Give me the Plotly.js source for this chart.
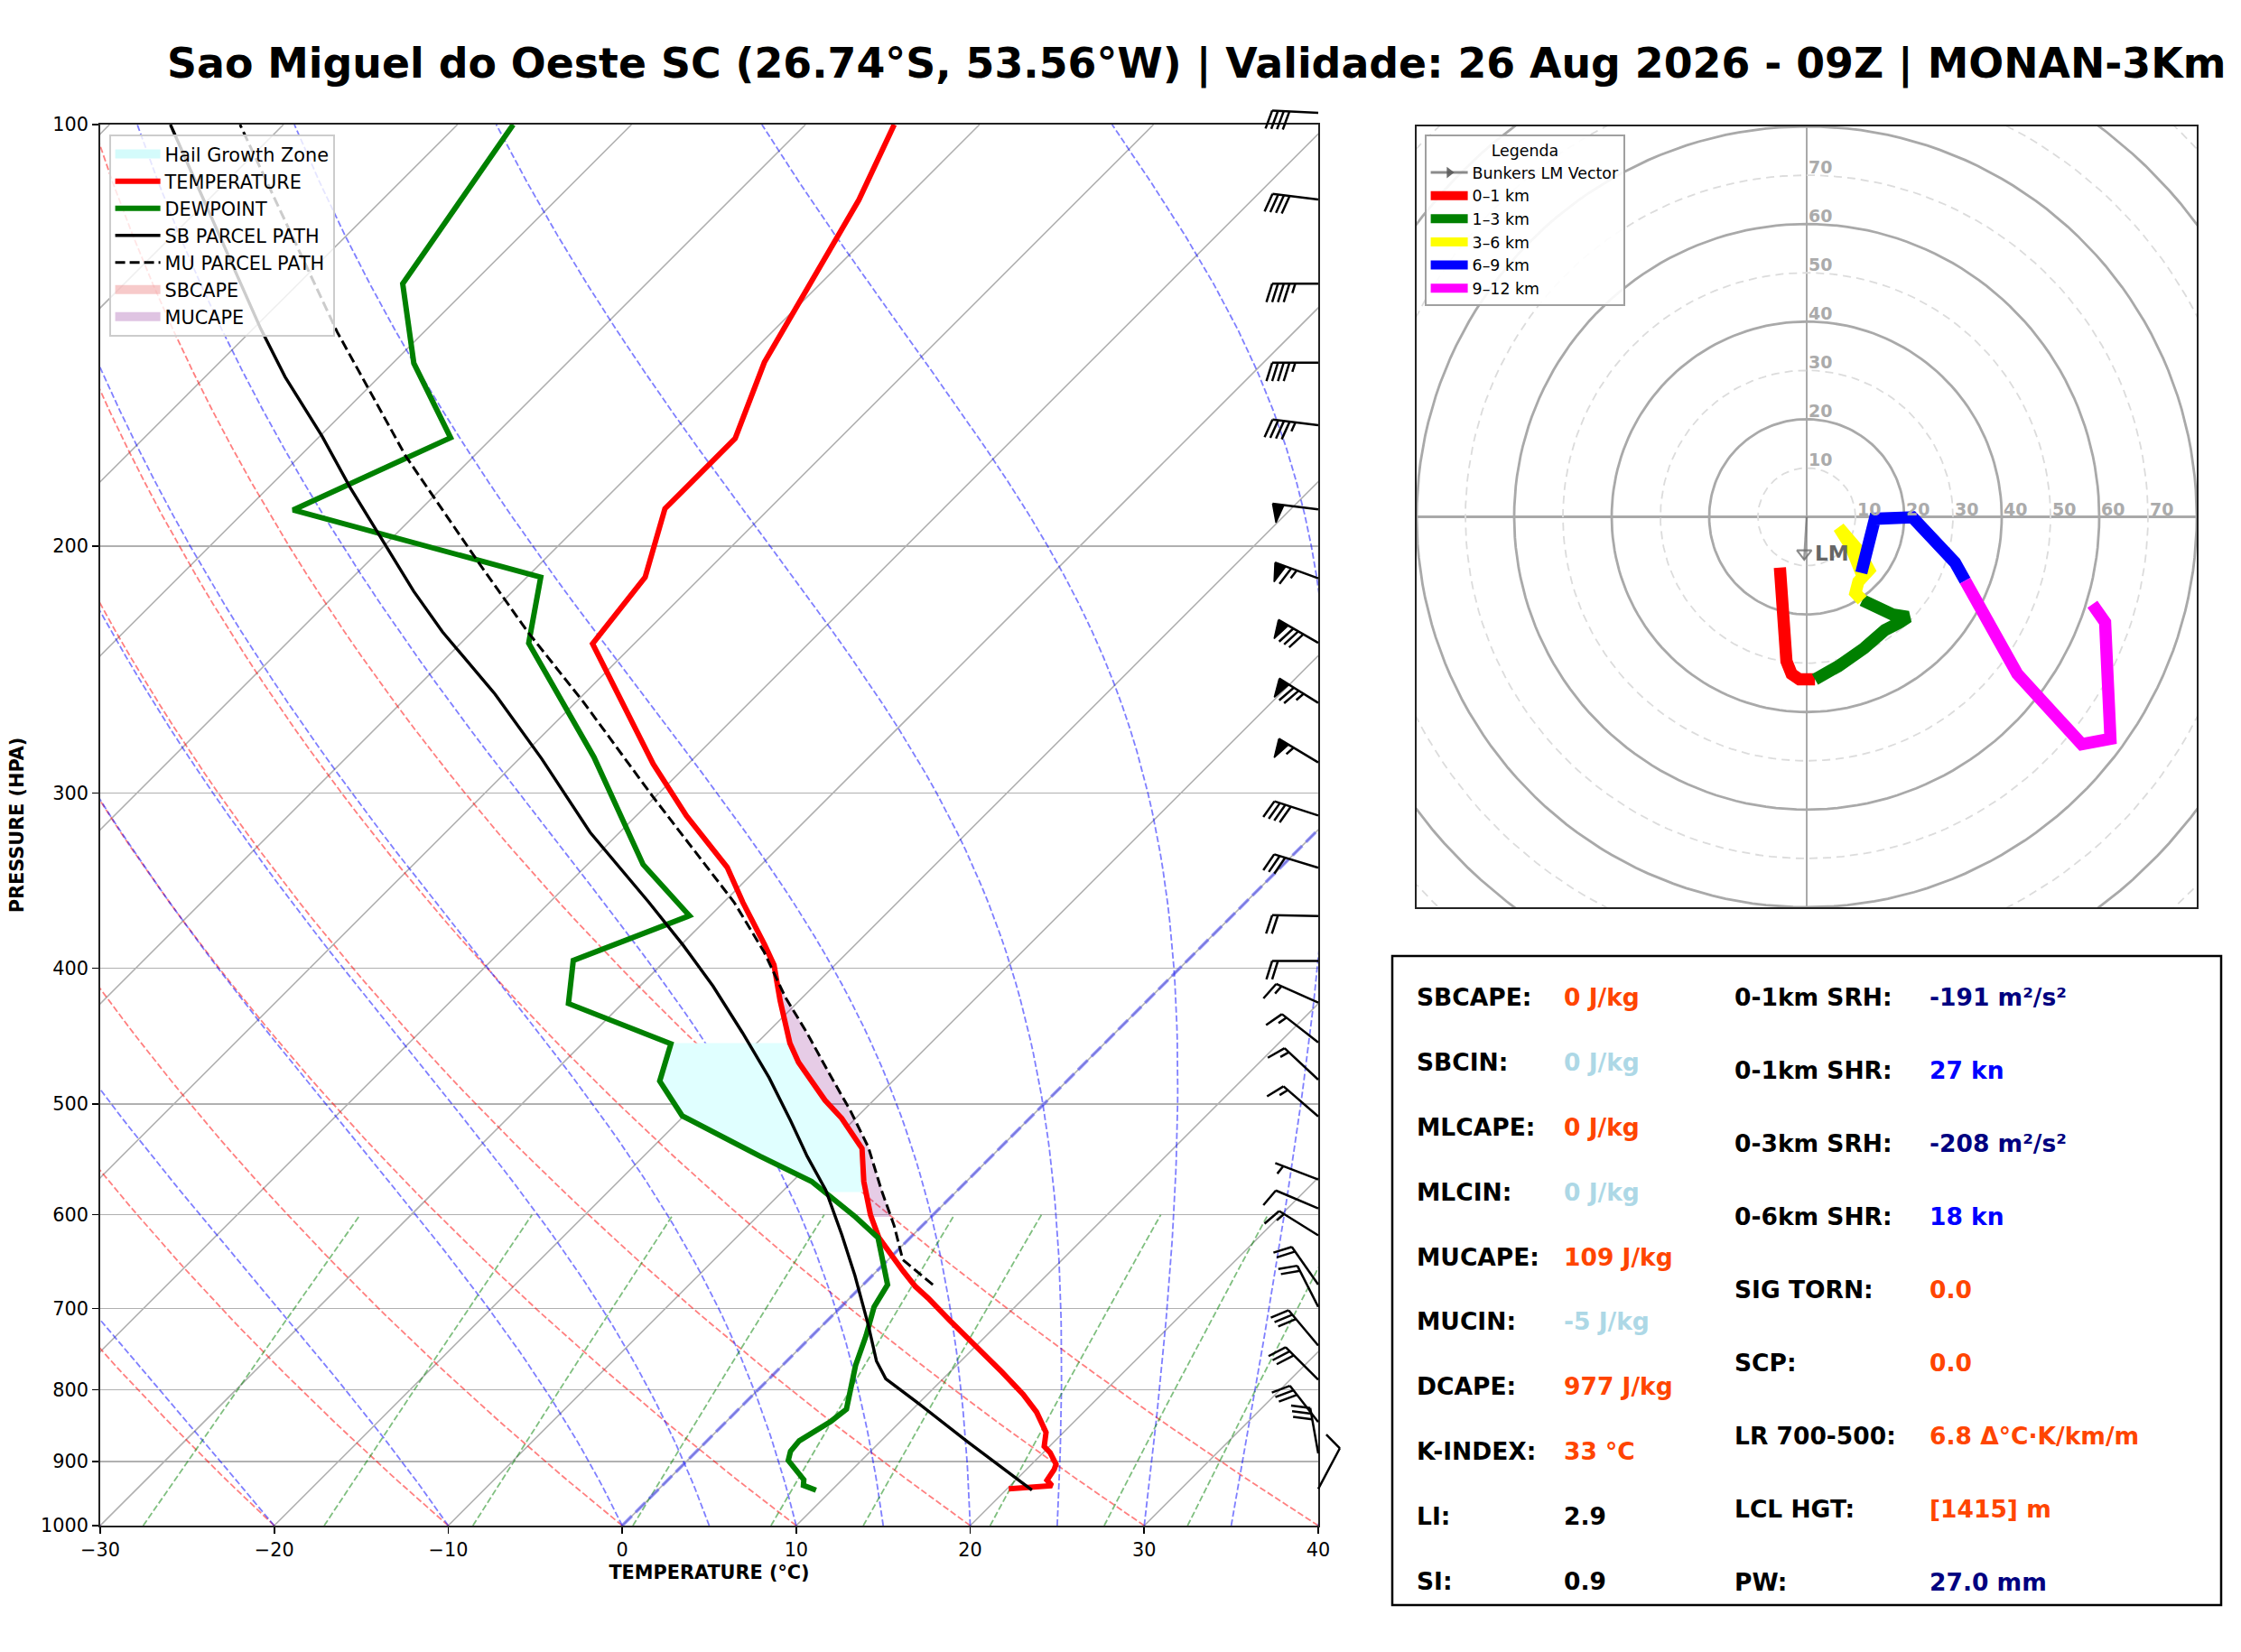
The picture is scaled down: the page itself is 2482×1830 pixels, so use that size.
<!DOCTYPE html>
<html>
<head>
<meta charset="utf-8">
<script src="https://cdn.plot.ly/plotly-3.0.1.min.js"></script>
<style>
html,body{margin:0;padding:0;background:#ffffff;}
#chart{width:2482px;height:1830px;}
</style>
</head>
<body>
<div id="chart"></div>
<script>
// ================= DATA =================
const titleText = 'Sao Miguel do Oeste SC (26.74°S, 53.56°W) | Validade: 26 Aug 2026 - 09Z | MONAN-3Km';

// Environmental temperature (hPa, °C)
const tempP = [941.3, 936.4, 928, 912, 904, 887, 878, 858, 830, 806, 777, 741, 714, 688, 675, 658, 639, 623, 600, 568, 538, 512, 497, 482, 467, 452.5, 435, 422, 398, 385, 359, 339, 311.5, 286, 234.7, 210.4, 188, 167.5, 147.8, 135.1, 122, 113.2, 100];
const tempT = [20.1, 22.4, 21.8, 21.6, 21.4, 20.4, 19.7, 19.0, 17.3, 15.5, 13.0, 9.6, 7.05, 4.5, 3.1, 1.5, -0.3, -1.8, -3.6, -5.9, -7.9, -10.8, -12.8, -14.6, -16.5, -18.1, -19.8, -21.1, -23.5, -25.2, -28.9, -31.8, -37.1, -42.0, -52.4, -53.2, -56.0, -56.0, -58.7, -60.0, -61.5, -62.6, -64.9];

// Dewpoint
const dewP = [943.4, 936, 927.4, 914, 898.5, 885, 870, 842.5, 826, 768.5, 732, 698, 673, 623, 602, 568, 545, 510, 481.6, 453, 424, 395, 367, 337.4, 282.8, 234.5, 210.4, 188.4, 167.3, 148, 129.9, 100];
const dewT = [9.1, 8.1, 7.8, 6.9, 5.8, 5.4, 5.3, 6.0, 6.2, 4.2, 3.1, 1.9, 1.4, -1.85, -4.35, -8.9, -13.3, -20.1, -23.4, -24.9, -33.1, -35.3, -31.2, -36.8, -45.8, -56.1, -59.2, -77.3, -72.4, -78.8, -84.0, -86.8];

// Surface-based parcel path
const sbP = [943.2, 871, 815, 785.5, 763, 719, 663, 620, 576, 545, 514, 479, 445, 412, 385, 359, 320, 283.6, 255, 230.2, 215.3, 197.7, 181.6, 166.8, 151.4, 139.8, 100];
const sbT = [21.5, 15.0, 9.7, 6.7, 5.15, 2.6, -1.0, -4.1, -7.6, -10.6, -13.6, -17.3, -21.4, -25.8, -29.9, -34.3, -41.7, -48.7, -55.1, -61.7, -65.7, -70.5, -75.3, -79.9, -85.4, -89.6, -106.5];

// Most-unstable parcel path
const muP = [673, 646, 611, 576, 537, 506, 475.6, 445, 419.6, 389.7, 359, 302, 258.2, 230.2, 205.8, 172.5, 140.6, 100];
const muT = [4.0, 0.84, -1.6, -4.4, -7.6, -10.7, -14.1, -17.7, -21.0, -24.8, -29.4, -40.1, -49.6, -56.8, -63.5, -73.9, -85.0, -102.5];

// Shaded layers (hPa)
const hgzBottomP = 578, hgzTopP = 452.5;
const muLfcP = 602, muElP = 410;

// Wind barbs (hPa, direction from, knots)
const windP   = [98.1, 113.1, 129.9, 147.9, 163.9, 188.2, 210.8, 234.4, 258.7, 285.3, 311.3, 339.2, 367.2, 395.3, 423.4, 452.0, 480.5, 510.5, 566.2, 593.8, 620.7, 672.9, 697.9, 743.8, 786.8, 843.5, 888.0, 941.4];
const windDir = [273, 277, 270, 270, 277, 277, 290, 300, 302, 301, 288, 287, 271, 270, 294, 308, 313, 311, 291, 293, 302, 325, 333, 320, 315, 322, 350, 28];
const windSpd = [40, 40, 45, 45, 45, 50, 65, 80, 75, 55, 40, 30, 20, 20, 15, 15, 15, 15, 5, 10, 15, 20, 20, 30, 30, 30, 30, 10];

// Hodograph (u, v in kt) per layer
const hodo01U  = [-5.5, -5.0, -4.5, -4.15, -3.1, -1.5, 1.7];
const hodo01V  = [-10.4, -17.3, -24.2, -29.6, -32.2, -33.3, -33.3];
const hodo13U  = [1.7, 6.5, 11.8, 16.05, 19.2, 20.8, 17.6, 13.9, 11.4];
const hodo13V  = [-33.3, -30.6, -26.9, -23.2, -21.6, -20.5, -20.0, -18.4, -17.1];
const hodo36U  = [11.4, 10.0, 10.6, 12.8, 10.6, 6.6, 9.0, 11.2];
const hodo36V  = [-17.1, -15.6, -13.3, -10.9, -6.85, -2.2, -6.0, -11.5];
const hodo69U  = [11.2, 12.5, 14.0, 21.7, 30.4, 32.5];
const hodo69V  = [-11.5, -6.85, -0.4, -0.1, -9.35, -13.1];
const hodo912U = [32.5, 43.2, 56.4, 62.3, 61.2, 58.6];
const hodo912V = [-13.1, -32.2, -46.6, -45.5, -21.6, -17.9];
const bunkersLM = [-0.5, -8.7];
const hodoRingsSolid = [20, 40, 60, 80, 100];
const hodoRingsDashed = [10, 30, 50, 70, 90, 110];
const hodoRingLabels = [10, 20, 30, 40, 50, 60, 70];

// Thermodynamic diagram background families
const isothermT = [-110, -100, -90, -80, -70, -60, -50, -40, -30, -20, -10, 0, 10, 20, 30, 40];
const dryAdiabatT0 = [-30, -20, -10, 0, 10, 20, 30, 40];
const moistAdiabatT0 = [-30, -20, -10, 0, 5, 10, 15, 20, 25, 30, 35, 40];
const mixingRatios = [0.0004, 0.001, 0.002, 0.004, 0.007, 0.01, 0.016, 0.024, 0.032];
const xTicks = [-30, -20, -10, 0, 10, 20, 30, 40];
const pTicks = [100, 200, 300, 400, 500, 600, 700, 800, 900, 1000];

// Stats table
const statsLeftLabels  = ['SBCAPE:', 'SBCIN:', 'MLCAPE:', 'MLCIN:', 'MUCAPE:', 'MUCIN:', 'DCAPE:', 'K-INDEX:', 'LI:', 'SI:'];
const statsLeftValues  = ['0 J/kg', '0 J/kg', '0 J/kg', '0 J/kg', '109 J/kg', '-5 J/kg', '977 J/kg', '33 °C', '2.9', '0.9'];
const statsLeftColors  = ['#ff4500', '#add8e6', '#ff4500', '#add8e6', '#ff4500', '#add8e6', '#ff4500', '#ff4500', '#000000', '#000000'];
const statsRightLabels = ['0-1km SRH:', '0-1km SHR:', '0-3km SRH:', '0-6km SHR:', 'SIG TORN:', 'SCP:', 'LR 700-500:', 'LCL HGT:', 'PW:'];
const statsRightValues = ['-191 m²/s²', '27 kn', '-208 m²/s²', '18 kn', '0.0', '0.0', '6.8 Δ°C·K/km/m', '[1415] m', '27.0 mm'];
const statsRightColors = ['#000080', '#0000ff', '#000080', '#0000ff', '#ff4500', '#ff4500', '#ff4500', '#ff4500', '#000080'];

// ================= LAYOUT GEOMETRY =================
const W = 2482, H = 1830;
const FONT = 'DejaVu Sans';
const SK = {l: 111, r: 1460, t: 138, b: 1690};   // skew-T plot area (px)
const HD = {l: 1569, r: 2433, t: 140, b: 1005};  // hodograph box (px)
const pxPerDeg = (SK.r - SK.l) / 70;
const pxPerDec = (SK.b - SK.t);
const K = pxPerDec / pxPerDeg;                   // 45° skew, °C per decade of pressure
const skewX = (T, p) => T + K * Math.log10(1000 / p);

function interpLog(pArr, tArr, p) {
  for (let i = 0; i < pArr.length - 1; i++) {
    if (p <= pArr[i] && p >= pArr[i + 1]) {
      const f = (Math.log(p) - Math.log(pArr[i])) / (Math.log(pArr[i + 1]) - Math.log(pArr[i]));
      return tArr[i] + f * (tArr[i + 1] - tArr[i]);
    }
  }
  return null;
}

const traces = [];
const base = {type: 'scatter', mode: 'lines', hoverinfo: 'skip', showlegend: false};

function multiLine(curves, style) {
  const x = [], y = [];
  curves.forEach(c => { c.T.forEach((t, i) => { x.push(skewX(t, c.P[i])); y.push(c.P[i]); }); x.push(null); y.push(null); });
  return Object.assign({}, base, {x, y, xaxis: 'x', yaxis: 'y', line: style});
}

// ---- background lines ----
const pFull = []; for (let p = 1000; p >= 100; p -= 10) pFull.push(p);
traces.push(multiLine(isothermT.map(t => ({T: [t, t], P: [1000, 100]})), {color: '#b0b0b0', width: 1.6}));

const Rd = 287.04749, Lv = 2.50084e6, Cpd = 1004.6662, EPS = 0.6219569;
traces.push(multiLine(dryAdiabatT0.map(t0 => ({P: pFull, T: pFull.map(p => (t0 + 273.15) * Math.pow(p / 1000, Rd / Cpd) - 273.15)})),
  {color: 'rgba(255,0,0,0.5)', width: 1.8, dash: '7px,3px'}));

function moistCurve(t0) {
  const rs = (p, T) => { const es = 6.112 * Math.exp(17.67 * (T - 273.15) / (T - 29.65)); return EPS * es / (p - es); };
  const f = (p, T) => { const r = rs(p, T); return ((Rd * T + Lv * r) / (Cpd + Lv * Lv * r * EPS / (Rd * T * T))) / p; };
  let T = t0 + 273.15, p = 1000; const h = -2; const P = [1000], TT = [t0];
  while (p > 100.5) {
    const k1 = f(p, T), k2 = f(p + h / 2, T + h / 2 * k1), k3 = f(p + h / 2, T + h / 2 * k2), k4 = f(p + h, T + h * k3);
    T += h / 6 * (k1 + 2 * k2 + 2 * k3 + k4); p += h;
    if (Math.abs(p / 10 - Math.round(p / 10)) < 1e-6) { P.push(p); TT.push(T - 273.15); }
  }
  return {P, T: TT};
}
traces.push(multiLine(moistAdiabatT0.map(moistCurve), {color: 'rgba(0,0,255,0.5)', width: 1.8, dash: '7px,3px'}));

const pMix = []; for (let p = 1000; p >= 600; p -= 20) pMix.push(p);
traces.push(multiLine(mixingRatios.map(w => ({P: pMix, T: pMix.map(p => { const e = p * w / (EPS + w); const l = Math.log(e / 6.112); return 243.5 * l / (17.67 - l); })})),
  {color: 'rgba(0,128,0,0.5)', width: 1.8, dash: '7px,3px'}));

// 0 °C isotherm
traces.push(multiLine([{T: [0, 0], P: [1000, 100]}], {color: 'rgba(60,60,255,0.5)', width: 3.6, dash: '15px,6px'}));

// ---- shaded regions ----
(function () {
  const tp = [hgzBottomP], tt = [interpLog(tempP, tempT, hgzBottomP)];
  tempP.forEach((p, i) => { if (p < hgzBottomP && p > hgzTopP) { tp.push(p); tt.push(tempT[i]); } });
  tp.push(hgzTopP); tt.push(interpLog(tempP, tempT, hgzTopP));
  const dp = [hgzTopP], dt = [interpLog(dewP, dewT, hgzTopP)];
  for (let i = dewP.length - 1; i >= 0; i--) { if (dewP[i] < hgzBottomP && dewP[i] > hgzTopP) { dp.push(dewP[i]); dt.push(dewT[i]); } }
  dp.push(hgzBottomP); dt.push(interpLog(dewP, dewT, hgzBottomP));
  const P = tp.concat(dp), T = tt.concat(dt);
  traces.push(Object.assign({}, base, {x: T.map((t, i) => skewX(t, P[i])), y: P, xaxis: 'x', yaxis: 'y', fill: 'toself', fillcolor: 'rgba(224,255,255,1)', line: {width: 0}}));
})();
(function () {
  const n = 60, up = [], lo = [];
  for (let k = 0; k <= n; k++) {
    const p = muLfcP * Math.pow(muElP / muLfcP, k / n);
    const a = interpLog(muP, muT, p), b = interpLog(tempP, tempT, p);
    up.push([p, Math.max(a, b)]); lo.push([p, b]);
  }
  const pts = up.concat(lo.reverse());
  traces.push(Object.assign({}, base, {x: pts.map(q => skewX(q[1], q[0])), y: pts.map(q => q[0]), xaxis: 'x', yaxis: 'y', fill: 'toself', fillcolor: 'rgba(128,0,128,0.2)', line: {width: 0}}));
})();

// ---- profiles ----
const prof = (P, T, name, line, rank) => Object.assign({}, base, {x: T.map((t, i) => skewX(t, P[i])), y: P, xaxis: 'x', yaxis: 'y', name, line, showlegend: true, legend: 'legend', legendrank: rank});
traces.push(prof(tempP, tempT, 'TEMPERATURE', {color: '#ff0000', width: 6}, 2));
traces.push(prof(dewP, dewT, 'DEWPOINT', {color: '#008000', width: 6}, 3));
traces.push(prof(sbP, sbT, 'SB PARCEL PATH', {color: '#000000', width: 3.4}, 4));
traces.push(prof(muP, muT, 'MU PARCEL PATH', {color: '#000000', width: 3, dash: '11px,5px'}, 5));

// legend-only patches
const patch = (name, color, rank) => Object.assign({}, base, {x: [null], y: [null], xaxis: 'x', yaxis: 'y', name, showlegend: true, legend: 'legend', legendrank: rank, line: {color, width: 14}});
traces.push(patch('Hail Growth Zone', '#d4fbfb', 1));
traces.push(patch('SBCAPE', 'rgba(240,150,150,0.5)', 6));
traces.push(patch('MUCAPE', 'rgba(150,60,160,0.3)', 7));

// ---- wind barbs (overlay axes with identical pressure/temperature scale) ----
(function () {
  const lx = [], ly = [], fx = [], fy = [];
  const L = 51, fh = 0.4 * L, fw = 0.25 * L, sp = 0.125 * L;
  for (let i = 0; i < windP.length; i++) {
    const pb = windP[i], d = windDir[i] * Math.PI / 180;
    const ux = Math.sin(d), uy = Math.cos(d);
    const qx = -uy, qy = ux;  // southern-hemisphere (flipped) feathers
    const toData = (a, b) => { const sx = a * ux + b * qx, sy = a * uy + b * qy; return [40 + sx / pxPerDeg, pb * Math.pow(10, -sy / pxPerDec)]; };
    const push = (X, Y, pts) => { pts.forEach(q => { const dd = toData(q[0], q[1]); X.push(dd[0]); Y.push(dd[1]); }); X.push(null); Y.push(null); };
    push(lx, ly, [[0, 0], [L, 0]]);
    let s = Math.round(windSpd[i] / 5) * 5;
    const nf = Math.floor(s / 50); s -= nf * 50;
    const nb = Math.floor(s / 10); const half = (s - nb * 10) >= 5;
    let off = L;
    for (let k = 0; k < nf; k++) { if (off !== L) off += sp / 2; push(fx, fy, [[off, 0], [off - fw / 2, fh], [off - fw, 0]]); off -= fw + sp; }
    for (let k = 0; k < nb; k++) { push(lx, ly, [[off, 0], [off + fw / 2, fh]]); off -= sp; }
    if (half) { if (off === L) off -= 1.5 * sp; push(lx, ly, [[off, 0], [off + fw / 4, fh / 2]]); }
  }
  traces.push(Object.assign({}, base, {x: lx, y: ly, xaxis: 'x3', yaxis: 'y3', line: {color: '#000', width: 2.5}}));
  traces.push(Object.assign({}, base, {x: fx, y: fy, xaxis: 'x3', yaxis: 'y3', fill: 'toself', fillcolor: '#000', line: {color: '#000', width: 1.5}}));
})();

// ---- hodograph ----
function ring(r) { const x = [], y = []; for (let a = 0; a <= 360; a += 2) { x.push(r * Math.cos(a * Math.PI / 180)); y.push(r * Math.sin(a * Math.PI / 180)); } return {x, y}; }
function rings(list, style) { const x = [], y = []; list.forEach(r => { const c = ring(r); x.push(...c.x, null); y.push(...c.y, null); }); return Object.assign({}, base, {x, y, xaxis: 'x2', yaxis: 'y2', line: style}); }
traces.push(rings(hodoRingsDashed, {color: '#dcdcdc', width: 1.8, dash: '9px,6px'}));
traces.push(rings(hodoRingsSolid, {color: '#a9a9a9', width: 2.8}));
const hodoSeg = (U, V, color) => Object.assign({}, base, {x: U, y: V, xaxis: 'x2', yaxis: 'y2', line: {color, width: 13.5}});
traces.push(hodoSeg(hodo01U, hodo01V, '#ff0000'));
traces.push(hodoSeg(hodo13U, hodo13V, '#008000'));
traces.push(hodoSeg(hodo36U, hodo36V, '#ffff00'));
traces.push(hodoSeg(hodo69U, hodo69V, '#0000ff'));
traces.push(hodoSeg(hodo912U, hodo912V, '#ff00ff'));
traces.push(Object.assign({}, base, {x: [0, bunkersLM[0]], y: [0, bunkersLM[1]], xaxis: 'x2', yaxis: 'y2', line: {color: 'rgba(110,110,110,0.7)', width: 2.5}}));
traces.push(Object.assign({}, base, {mode: 'markers', x: [bunkersLM[0]], y: [bunkersLM[1] + 1.2], xaxis: 'x2', yaxis: 'y2', marker: {symbol: 'triangle-down-open', size: 14, color: 'rgba(110,110,110,0.8)', line: {width: 2.2}}}));

const leg2 = (name, color, width, extra) => Object.assign({}, base, {x: [null], y: [null], xaxis: 'x2', yaxis: 'y2', name, showlegend: true, legend: 'legend2', line: {color, width}}, extra || {});
traces.push(leg2('Bunkers LM Vector', 'rgba(110,110,110,0.8)', 3, {mode: 'lines+markers', marker: {symbol: 'triangle-right', size: 11, color: 'rgba(90,90,90,0.9)'}}));
traces.push(leg2('0–1 km', '#ff0000', 13));
traces.push(leg2('1–3 km', '#008000', 13));
traces.push(leg2('3–6 km', '#ffff00', 13));
traces.push(leg2('6–9 km', '#0000ff', 13));
traces.push(leg2('9–12 km', '#ff00ff', 13));

// ---- annotations ----
const annotations = [];
hodoRingLabels.forEach(r => {
  const f = {family: FONT, size: 19, color: '#ababab', weight: 'bold'};
  annotations.push({x: r, y: 0, xref: 'x2', yref: 'y2', text: String(r), showarrow: false, xanchor: 'left', yanchor: 'bottom', yshift: -4, font: f});
  annotations.push({x: 0, y: r, xref: 'x2', yref: 'y2', text: String(r), showarrow: false, xanchor: 'left', yanchor: 'bottom', yshift: -4, font: f});
});
annotations.push({x: bunkersLM[0] + 5.7, y: bunkersLM[1] + 1.2, xref: 'x2', yref: 'y2', text: 'LM', showarrow: false, xanchor: 'center', yanchor: 'middle', font: {family: FONT, size: 23, color: '#666666', weight: 'bold'}});

const tbl = {x0: 1542, x1: 2460, y0: 1059, y1: 1778};
const px = x => x / W, py = y => 1 - y / H;
const tf = (c) => ({family: FONT, size: 26.5, color: c, weight: 'bold'});
statsLeftLabels.forEach((t, i) => {
  const y = 1104.3 + i * 71.93;
  annotations.push({x: px(1567), y: py(y), xref: 'paper', yref: 'paper', text: t, showarrow: false, xanchor: 'left', yanchor: 'middle', font: tf('#000')});
  annotations.push({x: px(1730), y: py(y), xref: 'paper', yref: 'paper', text: statsLeftValues[i], showarrow: false, xanchor: 'left', yanchor: 'middle', font: tf(statsLeftColors[i])});
});
statsRightLabels.forEach((t, i) => {
  const y = 1104.3 + i * 81.0;
  annotations.push({x: px(1919), y: py(y), xref: 'paper', yref: 'paper', text: t, showarrow: false, xanchor: 'left', yanchor: 'middle', font: tf('#000')});
  annotations.push({x: px(2135), y: py(y), xref: 'paper', yref: 'paper', text: statsRightValues[i], showarrow: false, xanchor: 'left', yanchor: 'middle', font: tf(statsRightColors[i])});
});

const shapes = [{type: 'rect', xref: 'paper', yref: 'paper', x0: px(tbl.x0), x1: px(tbl.x1), y0: py(tbl.y1), y1: py(tbl.y0), line: {color: '#000', width: 2.5}, fillcolor: 'rgba(0,0,0,0)'}];

const tickFont = {family: FONT, size: 20.8, color: '#000'};
const layout = {
  width: W, height: H, margin: {l: 0, r: 0, t: 0, b: 0},
  paper_bgcolor: '#ffffff', plot_bgcolor: 'rgba(0,0,0,0)',
  font: {family: FONT, color: '#000'}, hovermode: false,
  title: {text: titleText, xref: 'container', yref: 'container', x: 185 / W, xanchor: 'left', y: 1 - 70 / H, yanchor: 'middle',
          font: {family: FONT, size: 45.8, weight: 'bold', color: '#000'}},
  xaxis: {domain: [SK.l / W, SK.r / W], range: [-30, 40], anchor: 'y', tickmode: 'array', tickvals: xTicks,
          ticks: 'outside', ticklen: 7, tickwidth: 1.6, tickcolor: '#000', showline: true, linecolor: '#222', linewidth: 1.8, mirror: true,
          showgrid: false, zeroline: false, tickfont: tickFont,
          title: {text: 'TEMPERATURE (°C)', font: {family: FONT, size: 20.8, weight: 'bold'}, standoff: 7}},
  yaxis: {domain: [1 - SK.b / H, 1 - SK.t / H], type: 'log', range: [3, 2], anchor: 'x', tickmode: 'array', tickvals: pTicks,
          ticktext: pTicks.map(String), ticks: 'outside', ticklen: 7, tickwidth: 1.6, tickcolor: '#000',
          showline: true, linecolor: '#222', linewidth: 1.8, mirror: true, showgrid: true, gridcolor: '#b0b0b0', gridwidth: 1.6,
          zeroline: false, tickfont: tickFont,
          title: {text: 'PRESSURE (HPA)', font: {family: FONT, size: 20.8, weight: 'bold'}, standoff: 13}},
  xaxis2: {domain: [HD.l / W, HD.r / W], range: [-80, 80], anchor: 'y2', showticklabels: false, ticks: '', showgrid: false,
           zeroline: true, zerolinecolor: '#a9a9a9', zerolinewidth: 2.6, showline: true, mirror: true, linecolor: '#222', linewidth: 2},
  yaxis2: {domain: [1 - HD.b / H, 1 - HD.t / H], range: [-80, 80], anchor: 'x2', showticklabels: false, ticks: '', showgrid: false,
           zeroline: true, zerolinecolor: '#a9a9a9', zerolinewidth: 2.6, showline: true, mirror: true, linecolor: '#222', linewidth: 2},
  xaxis3: {domain: [0, 1], range: [-30 - SK.l / pxPerDeg, -30 + (W - SK.l) / pxPerDeg], anchor: 'y3', visible: false},
  yaxis3: {domain: [0, 1], type: 'log', range: [3 + (H - SK.b) / pxPerDec, 3 - SK.b / pxPerDec], anchor: 'x3', visible: false},
  legend: {x: 121 / W, y: 1 - 149 / H, xanchor: 'left', yanchor: 'top', bgcolor: 'rgba(255,255,255,0.8)', bordercolor: '#cccccc',
           borderwidth: 1.6, font: {family: FONT, size: 20.8, color: '#000'}, itemwidth: 50, traceorder: 'normal'},
  legend2: {x: 1578 / W, y: 1 - 149 / H, xanchor: 'left', yanchor: 'top', bgcolor: 'rgba(255,255,255,0.9)', bordercolor: '#a0a0a0',
            borderwidth: 1.6, font: {family: FONT, size: 17.4, color: '#000'}, itemwidth: 41, traceorder: 'normal',
            title: {text: 'Legenda', side: 'top center', font: {family: FONT, size: 17.4, color: '#000'}}},
  annotations, shapes
};

Plotly.newPlot('chart', traces, layout, {displayModeBar: false, staticPlot: true});
</script>
</body>
</html>
